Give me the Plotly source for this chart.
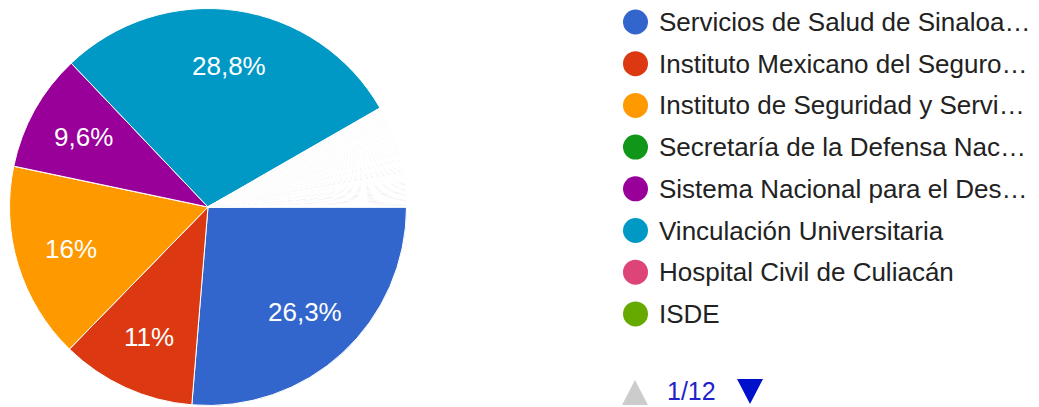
import math
import plotly.graph_objects as go

W, H = 1039, 407
OFF = 8  # la página deja 8px de margen en el body

# respuestas por institución (página 1 de la leyenda)
categorias = [
    "Servicios de Salud de Sinaloa…",
    "Instituto Mexicano del Seguro…",
    "Instituto de Seguridad y Servi…",
    "Secretaría de la Defensa Nac…",
    "Sistema Nacional para el Des…",
    "Vinculación Universitaria",
    "Hospital Civil de Culiacán",
    "ISDE",
]
respuestas = [263, 110, 160, 0, 96, 288, 1, 1]

# resto de respuestas únicas (páginas 2 a 12 de la leyenda)
otras_respuestas = [
    1, 1, 1, 1, 1, 1, 1, 1, 1, 1, 1, 1, 1, 1, 1, 1, 1, 1, 1, 1, 1, 1, 1, 1, 1, 1, 1,
    1, 1, 1, 1, 1, 1, 1, 1, 1, 1, 1, 1, 1, 1, 1, 1, 1, 1, 1, 1, 1, 1, 1, 1, 1, 1, 1,
    1, 1, 1, 1, 1, 1, 1, 1, 1, 1, 1, 1, 1, 1, 1, 1, 1, 1, 1, 1, 1, 1, 1, 1, 1, 1, 1,
]
otras_categorias = ["Otra respuesta %d" % (i + 1) for i in range(len(otras_respuestas))]

pagina_actual = "1/12"

colores_google = ["#3366cc", "#dc3912", "#ff9900", "#109618", "#990099", "#0099c6",
                  "#dd4477", "#66aa00", "#b82e2e", "#316395", "#994499", "#22aa99",
                  "#aaaa11", "#6633cc", "#e67300", "#8b0707", "#651067", "#329262",
                  "#5574a6", "#3b3eac", "#b77322", "#16d620", "#b91383", "#f4359e",
                  "#9c5935", "#a9c413", "#2a778d", "#668d1c", "#bea413", "#0c5922",
                  "#743411"]

labels = categorias + otras_categorias
values = respuestas + otras_respuestas
total = sum(values)
colors = [colores_google[i % len(colores_google)] for i in range(len(values))]
line_w = [1 if v / total > 0.01 else 1.25 for v in values]

FONT = "Liberation Sans, Arial, sans-serif"


def px(x, y):
    # coordenadas de pantalla -> papel
    return (x - OFF) / W, 1 - (y - OFF) / H


# pastel: centro (208, 207), radio 198.5 en pantalla
CX, CY, R = 208, 207, 198.5
dx0, dy0 = px(CX - R, CY + R)
dx1, dy1 = px(CX + R, CY - R)

fig = go.Figure(go.Pie(
    labels=labels, values=values, sort=False, direction="clockwise", rotation=90,
    marker=dict(colors=colors, line=dict(color="white", width=line_w)),
    textinfo="none",
    domain=dict(x=[dx0, dx1], y=[dy0, dy1]),
    showlegend=False, hoverinfo="label+percent",
))

shapes = []
annotations = []

# etiquetas de porcentaje dentro de las porciones grandes
acum = 0
for v in values:
    frac = v / total
    if frac > 0.05:
        mid = acum + frac / 2
        ang = -2 * math.pi * mid
        k = 0.72
        lx = CX + k * R * math.cos(ang)
        ly = CY - k * R * math.sin(ang)
        txt = ("%.1f" % (frac * 100)).rstrip("0").rstrip(".").replace(".", ",") + "%"
        x, y = px(lx, ly)
        annotations.append(dict(x=x, y=y, xref="paper", yref="paper", text=txt, showarrow=False,
                                xanchor="center", yanchor="middle",
                                font=dict(size=26, color="white", family=FONT)))
    acum += frac

# leyenda (página 1)
row_y = 22
for i, name in enumerate(categorias):
    cy = row_y + i * 41.7
    x0, y0 = px(623, cy - 12.5)
    x1, y1 = px(648, cy + 12.5)
    shapes.append(dict(type="circle", xref="paper", yref="paper", x0=x0, x1=x1, y0=y1, y1=y0,
                       fillcolor=colors[i], line=dict(width=0)))
    tx, ty = px(657, cy)
    annotations.append(dict(x=tx, y=ty, xref="paper", yref="paper", text=name, showarrow=False,
                            xanchor="left", yanchor="middle",
                            font=dict(size=26, color="#222222", family=FONT)))

# paginador de la leyenda
ax, ay = px(622, 405)
bx, by = px(648, 405)
cx, cy_ = px(635, 380)
shapes.append(dict(type="path", xref="paper", yref="paper",
                   path=f"M {ax} {ay} L {bx} {by} L {cx} {cy_} Z",
                   fillcolor="#cccccc", line=dict(width=0)))
ax, ay = px(737, 379)
bx, by = px(763, 379)
cx, cy_ = px(750, 404)
shapes.append(dict(type="path", xref="paper", yref="paper",
                   path=f"M {ax} {ay} L {bx} {by} L {cx} {cy_} Z",
                   fillcolor="#0011cc", line=dict(width=0)))
tx, ty = px(665, 391)
annotations.append(dict(x=tx, y=ty, xref="paper", yref="paper", text=pagina_actual, showarrow=False,
                        xanchor="left", yanchor="middle",
                        font=dict(size=25, color="#2222cc", family=FONT)))

fig.update_layout(
    width=W, height=H, margin=dict(l=0, r=0, t=0, b=0),
    paper_bgcolor="white", plot_bgcolor="white",
    shapes=shapes, annotations=annotations,
)

fig.write_html("out.html")
